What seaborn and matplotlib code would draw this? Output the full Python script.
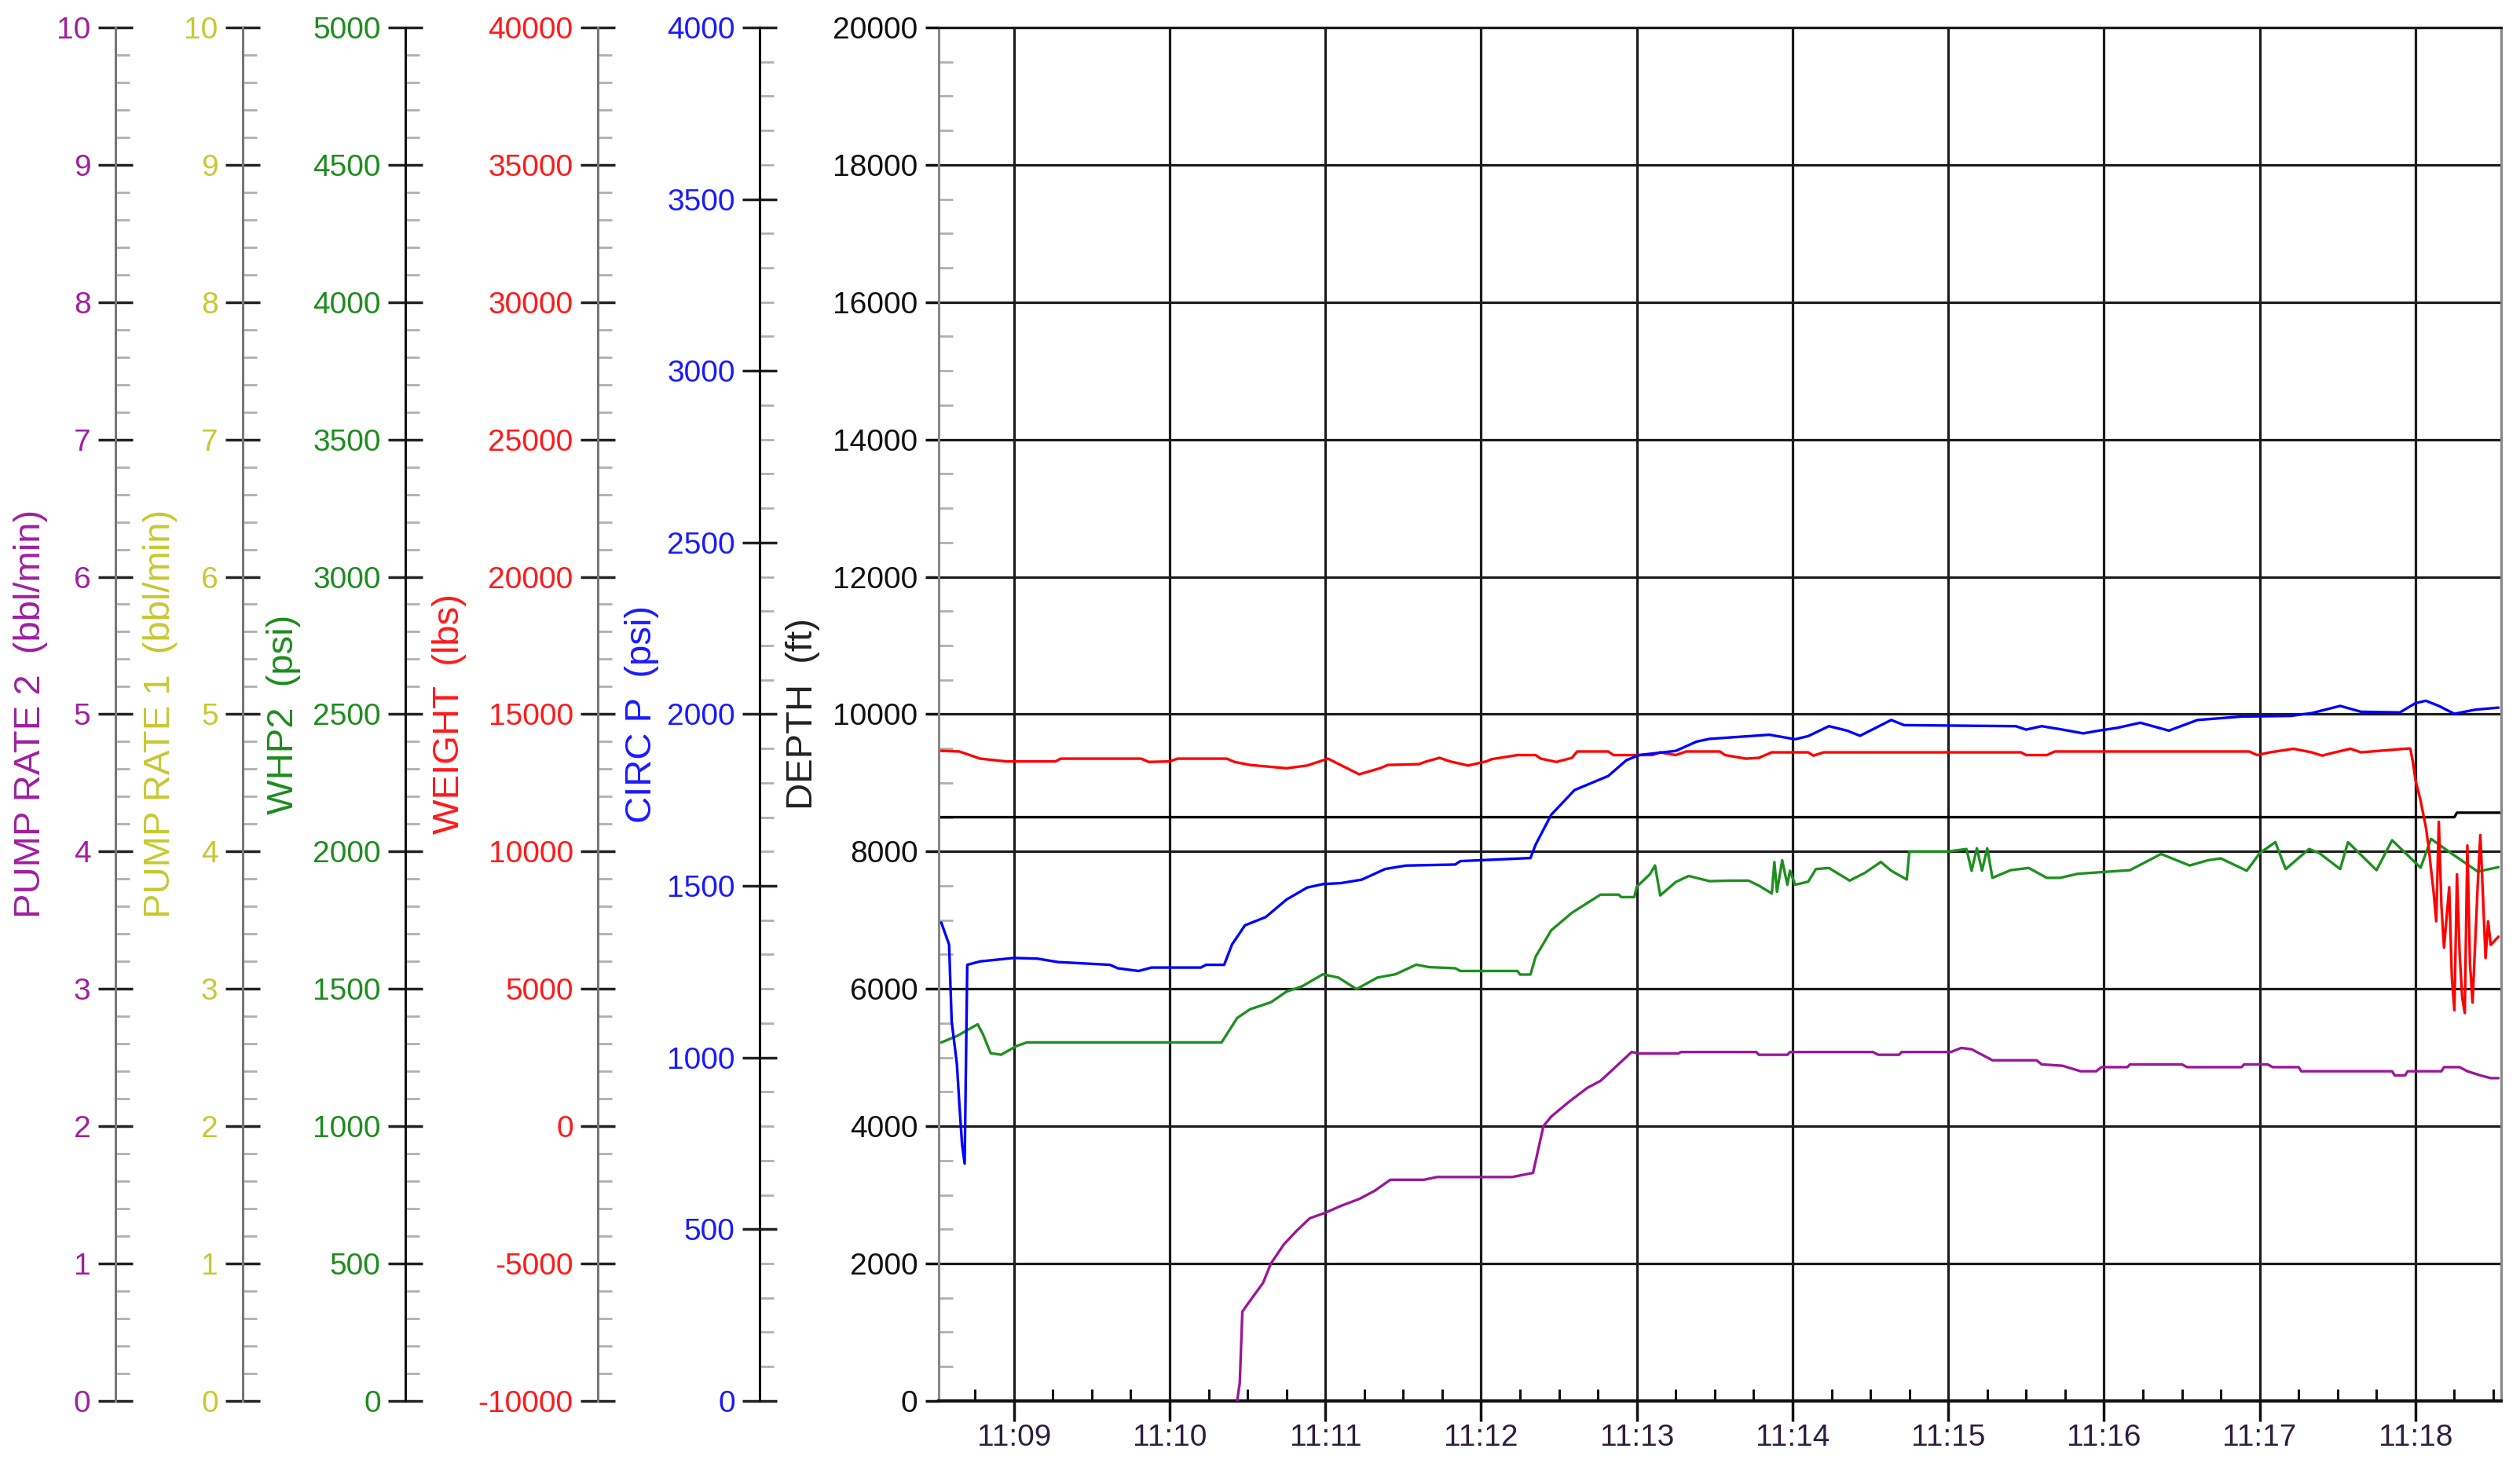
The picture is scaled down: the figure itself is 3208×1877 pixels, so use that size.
import matplotlib
matplotlib.use("Agg")
import matplotlib.dates as mdates
import matplotlib.pyplot as plt
import pandas as pd
import seaborn as sns
from matplotlib.ticker import MultipleLocator

# values (time of day -> value in the axis unit)
depth_time = ["11:08:31", "11:18:15", "11:18:16", "11:18:33"]
depth_ft = [8500, 8500, 8565, 8565]

circ_time = [
    "11:08:32", "11:08:35", "11:08:36", "11:08:38", "11:08:39", "11:08:40",
    "11:08:41", "11:08:42", "11:08:47", "11:09:00", "11:09:09", "11:09:17",
    "11:09:37", "11:09:40", "11:09:48", "11:09:53", "11:10:12", "11:10:14",
    "11:10:21", "11:10:24", "11:10:29", "11:10:37", "11:10:45", "11:10:53",
    "11:10:59", "11:11:06", "11:11:14", "11:11:23", "11:11:31", "11:11:50",
    "11:11:52", "11:12:19", "11:12:21", "11:12:27", "11:12:36", "11:12:49",
    "11:12:56", "11:13:01", "11:13:15", "11:13:23", "11:13:28", "11:13:51",
    "11:14:01", "11:14:06", "11:14:14", "11:14:21", "11:14:26", "11:14:32",
    "11:14:38", "11:14:43", "11:15:26", "11:15:30", "11:15:36", "11:15:44",
    "11:15:52", "11:15:58", "11:16:05", "11:16:14", "11:16:25", "11:16:36",
    "11:16:53", "11:17:12", "11:17:20", "11:17:31", "11:17:39", "11:17:54",
    "11:18:00", "11:18:04", "11:18:09", "11:18:15", "11:18:23", "11:18:32",
]
circ_psi = [
    1393, 1329, 1105, 982, 860, 747,
    691, 1270, 1280, 1290, 1288, 1278,
    1270, 1260, 1252, 1262, 1262, 1270,
    1270, 1329, 1385, 1409, 1460, 1495,
    1505, 1508, 1518, 1549, 1559, 1562,
    1572, 1581, 1620, 1707, 1779, 1820,
    1866, 1881, 1893, 1920, 1928, 1940,
    1927, 1936, 1965, 1952, 1937, 1960,
    1983, 1968, 1965, 1955, 1965, 1955,
    1944, 1952, 1960, 1975, 1952, 1983,
    1993, 1995, 2003, 2024, 2007, 2005,
    2032, 2039, 2024, 2001, 2013, 2019,
]

weight_time = [
    "11:08:32", "11:08:39", "11:08:43", "11:08:47", "11:08:57", "11:09:16",
    "11:09:18", "11:09:49", "11:09:52", "11:10:00", "11:10:03", "11:10:22",
    "11:10:25", "11:10:31", "11:10:45", "11:10:53", "11:11:01", "11:11:13",
    "11:11:21", "11:11:24", "11:11:36", "11:11:39", "11:11:44", "11:11:48",
    "11:11:55", "11:12:02", "11:12:04", "11:12:14", "11:12:21", "11:12:23",
    "11:12:29", "11:12:35", "11:12:37", "11:12:49", "11:12:51", "11:13:06",
    "11:13:09", "11:13:15", "11:13:19", "11:13:32", "11:13:34", "11:13:42",
    "11:13:47", "11:13:52", "11:14:06", "11:14:08", "11:14:12", "11:15:28",
    "11:15:30", "11:15:38", "11:15:41", "11:16:56", "11:16:59", "11:17:04",
    "11:17:13", "11:17:20", "11:17:24", "11:17:29", "11:17:35", "11:17:39",
    "11:17:56", "11:17:58", "11:17:59", "11:18:00", "11:18:02", "11:18:04",
    "11:18:05", "11:18:07", "11:18:08", "11:18:09", "11:18:10", "11:18:11",
    "11:18:13", "11:18:14", "11:18:15", "11:18:16", "11:18:17", "11:18:18",
    "11:18:19", "11:18:20", "11:18:21", "11:18:22", "11:18:24", "11:18:25",
    "11:18:26", "11:18:27", "11:18:28", "11:18:29", "11:18:32",
]
weight_lbs = [
    13665, 13640, 13510, 13380, 13280, 13280,
    13380, 13380, 13260, 13280, 13380, 13380,
    13260, 13150, 13030, 13130, 13380, 12810,
    13030, 13150, 13180, 13280, 13410, 13280,
    13130, 13280, 13360, 13510, 13510, 13380,
    13260, 13410, 13640, 13640, 13510, 13510,
    13610, 13510, 13640, 13640, 13510, 13380,
    13410, 13610, 13610, 13490, 13610, 13610,
    13510, 13510, 13640, 13640, 13510, 13610,
    13740, 13610, 13490, 13610, 13740, 13610,
    13740, 13750, 13270, 12600, 11840, 10890,
    10220, 8510, 7460, 11080, 8030, 6500,
    8700, 5460, 4220, 9170, 6320, 4690,
    4120, 10220, 5930, 4500, 8790, 10600,
    8410, 6120, 7460, 6600, 6900,
]

whp2_time = [
    "11:08:32", "11:08:38", "11:08:46", "11:08:48", "11:08:51", "11:08:55",
    "11:09:01", "11:09:05", "11:10:20", "11:10:26", "11:10:31", "11:10:39",
    "11:10:45", "11:10:51", "11:10:59", "11:11:05", "11:11:12", "11:11:20",
    "11:11:27", "11:11:35", "11:11:40", "11:11:50", "11:11:52", "11:12:14",
    "11:12:15", "11:12:19", "11:12:21", "11:12:27", "11:12:35", "11:12:46",
    "11:12:53", "11:12:54", "11:12:59", "11:13:00", "11:13:05", "11:13:07",
    "11:13:09", "11:13:15", "11:13:20", "11:13:28", "11:13:36", "11:13:43",
    "11:13:47", "11:13:52", "11:13:53", "11:13:54", "11:13:56", "11:13:58",
    "11:13:59", "11:14:01", "11:14:06", "11:14:09", "11:14:14", "11:14:22",
    "11:14:28", "11:14:34", "11:14:38", "11:14:44", "11:14:45", "11:15:00",
    "11:15:07", "11:15:09", "11:15:11", "11:15:13", "11:15:15", "11:15:17",
    "11:15:24", "11:15:31", "11:15:38", "11:15:43", "11:15:50", "11:16:10",
    "11:16:22", "11:16:33", "11:16:40", "11:16:45", "11:16:55", "11:17:00",
    "11:17:06", "11:17:10", "11:17:19", "11:17:23", "11:17:31", "11:17:34",
    "11:17:45", "11:17:51", "11:18:02", "11:18:06", "11:18:14", "11:18:24",
    "11:18:32",
]
whp2_psi = [
    1305, 1328, 1371, 1336, 1266, 1260,
    1292, 1305, 1305, 1394, 1426, 1451,
    1490, 1509, 1553, 1541, 1499, 1541,
    1553, 1588, 1579, 1575, 1565, 1565,
    1552, 1552, 1617, 1713, 1777, 1843,
    1843, 1834, 1834, 1872, 1917, 1949,
    1840, 1889, 1911, 1892, 1894, 1894,
    1876, 1847, 1962, 1853, 1968, 1879,
    1930, 1879, 1890, 1936, 1940, 1894,
    1923, 1962, 1930, 1898, 2000, 2000,
    2009, 1930, 2012, 1930, 2012, 1904,
    1932, 1940, 1904, 1904, 1919, 1932,
    1991, 1949, 1968, 1975, 1930, 1994,
    2034, 1936, 2009, 1994, 1936, 2034,
    1932, 2041, 1941, 2046, 1992, 1927,
    1943,
]

pump2_time = [
    "11:10:26", "11:10:27", "11:10:28", "11:10:31", "11:10:36", "11:10:39",
    "11:10:44", "11:10:49", "11:10:54", "11:11:00", "11:11:06", "11:11:13",
    "11:11:19", "11:11:25", "11:11:38", "11:11:43", "11:12:12", "11:12:20",
    "11:12:24", "11:12:27", "11:12:34", "11:12:41", "11:12:46", "11:12:58",
    "11:13:01", "11:13:16", "11:13:17", "11:13:46", "11:13:47", "11:13:58",
    "11:13:59", "11:14:31", "11:14:33", "11:14:41", "11:14:42", "11:15:01",
    "11:15:05", "11:15:09", "11:15:17", "11:15:34", "11:15:36", "11:15:44",
    "11:15:51", "11:15:57", "11:15:59", "11:16:09", "11:16:10", "11:16:30",
    "11:16:32", "11:16:53", "11:16:54", "11:17:03", "11:17:05", "11:17:15",
    "11:17:16", "11:17:51", "11:17:52", "11:17:56", "11:17:57", "11:18:10",
    "11:18:11", "11:18:17", "11:18:20", "11:18:25", "11:18:29", "11:18:32",
]
pump2_bpm = [
    0.0, 0.13, 0.65, 0.73, 0.86, 1.00,
    1.14, 1.24, 1.33, 1.37, 1.42, 1.47,
    1.53, 1.61, 1.61, 1.63, 1.63, 1.66,
    2.00, 2.07, 2.18, 2.28, 2.33, 2.54,
    2.53, 2.53, 2.54, 2.54, 2.52, 2.52,
    2.54, 2.54, 2.52, 2.52, 2.54, 2.54,
    2.57, 2.56, 2.48, 2.48, 2.45, 2.44,
    2.40, 2.40, 2.43, 2.43, 2.45, 2.45,
    2.43, 2.43, 2.45, 2.45, 2.43, 2.43,
    2.40, 2.40, 2.37, 2.37, 2.40, 2.40,
    2.43, 2.43, 2.40, 2.37, 2.35, 2.35,
]

x_start, x_end = "11:08:31", "11:18:33"


def to_time(stamps):
    return pd.to_datetime(["2000-01-01 " + s for s in stamps])


sns.set_style("ticks")
plt.rcParams["font.family"] = ["Liberation Sans", "DejaVu Sans"]
plt.rcParams["axes.unicode_minus"] = False

fig = plt.figure(figsize=(32.08, 18.77), dpi=100)
ax = fig.add_axes([0.3725, 0.0496, 0.6200, 0.9318])

# main depth axis, grid and time axis
sns.lineplot(x=to_time(depth_time), y=depth_ft, ax=ax, color="black",
             linewidth=2.4, legend=False)
ax.set_ylim(0, 20000)
ax.set_xlim(to_time([x_start])[0], to_time([x_end])[0])
ax.yaxis.set_major_locator(MultipleLocator(2000))
ax.yaxis.set_minor_locator(MultipleLocator(500))
ax.xaxis.set_major_locator(mdates.MinuteLocator())
ax.xaxis.set_minor_locator(mdates.SecondLocator(bysecond=[15, 30, 45]))
ax.xaxis.set_major_formatter(mdates.DateFormatter("%H:%M"))
ax.grid(True, which="major", color="#1c1c1c", linewidth=2.3)
ax.tick_params(axis="x", which="major", direction="out", length=19, width=2.5,
               color="#111111", labelsize=28, labelcolor="#2e1f3e", pad=2)
ax.tick_params(axis="x", which="minor", direction="in", length=11, width=2.2,
               color="#111111")
ax.tick_params(axis="y", which="major", direction="out", length=12, width=2.5,
               color="#111111", labelsize=28, labelcolor="#111111", pad=7)
ax.tick_params(axis="y", which="minor", direction="in", length=13, width=2,
               color="#b0b0b0")
ax.spines["bottom"].set_linewidth(3)
ax.spines["bottom"].set_color("#111111")
ax.spines["top"].set_color("#1c1c1c")
ax.spines["top"].set_linewidth(2.3)
for side in ("left", "right"):
    ax.spines[side].set_color("#888888")
    ax.spines[side].set_linewidth(2.2)
ax.set_xlabel("")
ax.set_ylabel("DEPTH  (ft)", color="#222222", fontsize=34)
ax.yaxis.set_label_coords(-0.0759, 0.5)

# one extra scale per channel, drawn on the left of the chart
scales = [
    ("PUMP RATE 2  (bbl/min)", "#a01fa0", (0, 10), 1, 0.2, -0.527, -0.570, "#777777"),
    ("PUMP RATE 1  (bbl/min)", "#c8c832", (0, 10), 1, 0.2, -0.4455, -0.487, "#777777"),
    ("WHP2  (psi)", "#1e8c1e", (0, 5000), 500, 100, -0.3414, -0.408, "#111111"),
    ("WEIGHT  (lbs)", "#ff1a1a", (-10000, 40000), 5000, 1000, -0.2182, -0.302, "#777777"),
    ("CIRC P  (psi)", "#1a1aff", (0, 4000), 500, 100, -0.1146, -0.179, "#111111"),
]
series = {
    "PUMP RATE 2  (bbl/min)": (pump2_time, pump2_bpm, "#9a179a"),
    "WHP2  (psi)": (whp2_time, whp2_psi, "#1f8f1f"),
    "WEIGHT  (lbs)": (weight_time, weight_lbs, "#ff0000"),
    "CIRC P  (psi)": (circ_time, circ_psi, "#0000ff"),
}

for label, color, lim, major, minor, xpos, labx, spine_color in scales:
    tw = ax.twinx()
    if label in series:
        times, values, line_color = series[label]
        sns.lineplot(x=to_time(times), y=values, ax=tw, color=line_color,
                     linewidth=2.4, legend=False)
    tw.set_ylim(*lim)
    for side in ("top", "bottom", "right"):
        tw.spines[side].set_visible(False)
    tw.spines["left"].set_visible(True)
    tw.spines["left"].set_position(("axes", xpos))
    tw.spines["left"].set_color(spine_color)
    tw.spines["left"].set_linewidth(2.2)
    tw.yaxis.set_ticks_position("left")
    tw.yaxis.set_label_position("left")
    tw.yaxis.set_major_locator(MultipleLocator(major))
    tw.yaxis.set_minor_locator(MultipleLocator(minor))
    tw.tick_params(axis="y", which="major", direction="inout", length=31,
                   width=2.5, color="#222222", labelsize=28, labelcolor=color,
                   pad=7)
    tw.tick_params(axis="y", which="minor", direction="in", length=13,
                   width=2, color="#b0b0b0")
    tw.set_ylabel(label, color=color, fontsize=34)
    tw.yaxis.set_label_coords(labx, 0.5)

fig.savefig("out.png", dpi=100)
